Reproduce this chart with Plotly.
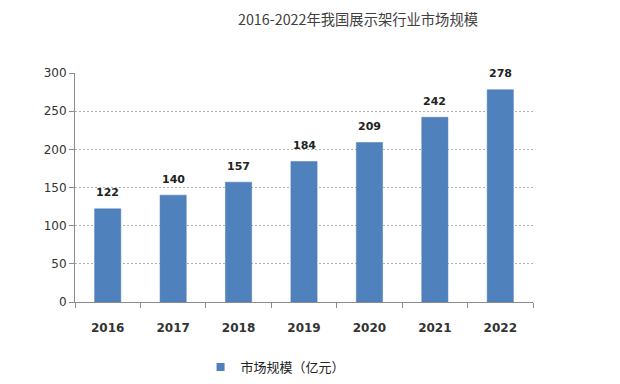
import plotly.graph_objects as go

years = ["2016", "2017", "2018", "2019", "2020", "2021", "2022"]
values = [122, 140, 157, 184, 209, 242, 278]
series_name = "市场规模（亿元）"
title = "2016-2022年我国展示架行业市场规模"

cjk = "Noto Sans CJK SC, DejaVu Sans, sans-serif"
num = "DejaVu Sans, sans-serif"
bar_color = "#4F81BD"

# page body has an 8px margin; size the figure so it fits the 620x384 window
W, H = 612, 376

fig = go.Figure()
fig.add_trace(go.Bar(
    x=years, y=values, name=series_name,
    marker=dict(color=bar_color, line=dict(color="#4677b3", width=0.5)),
    width=0.4,
    showlegend=False,
))
# legend entry with a small square swatch
fig.add_trace(go.Scatter(
    x=[years[0]], y=[None], mode="markers", name=series_name,
    marker=dict(symbol="square", size=8, color=bar_color),
    showlegend=True, hoverinfo="skip",
))

# value labels (category axis positions given by index)
for i, v in enumerate(values):
    fig.add_annotation(
        x=i, y=v, text=str(v), showarrow=False,
        yanchor="middle", yshift=16,
        font=dict(size=11, color="#222", family=num, weight="bold"),
    )

fig.update_layout(
    width=W, height=H,
    paper_bgcolor="white", plot_bgcolor="white",
    margin=dict(l=67, r=87, t=65, b=82),
    title=dict(text=title, x=350 / W, xanchor="center", y=1 - 12 / H, yanchor="middle",
               font=dict(size=14.3, color="#404040", family=cjk)),
    showlegend=True,
    legend=dict(orientation="h", x=268 / W, xanchor="center", y=1 - 359 / H, yanchor="middle",
                yref="container", itemwidth=30,
                font=dict(size=13, color="#222", family=cjk)),
)
fig.update_yaxes(
    range=[0, 300], dtick=50,
    showline=True, linecolor="#8c8c8c", linewidth=1,
    ticks="outside", ticklen=5, tickcolor="#8c8c8c",
    showgrid=True, gridcolor="#b0b0b0", griddash="2px,2px", gridwidth=1,
    tickfont=dict(size=12, color="#333", family=num),
    zeroline=False,
)
fig.update_xaxes(
    type="category", categoryorder="array", categoryarray=years,
    range=[-0.5, len(years) - 0.5],
    showline=True, linecolor="#8c8c8c", linewidth=1,
    ticks="outside", ticklen=5, tickcolor="#8c8c8c", tickson="boundaries",
    tickfont=dict(size=12, color="#333", family=num, weight="bold"),
    ticklabelstandoff=15, tickangle=0,
)

fig.write_html("out.html")
